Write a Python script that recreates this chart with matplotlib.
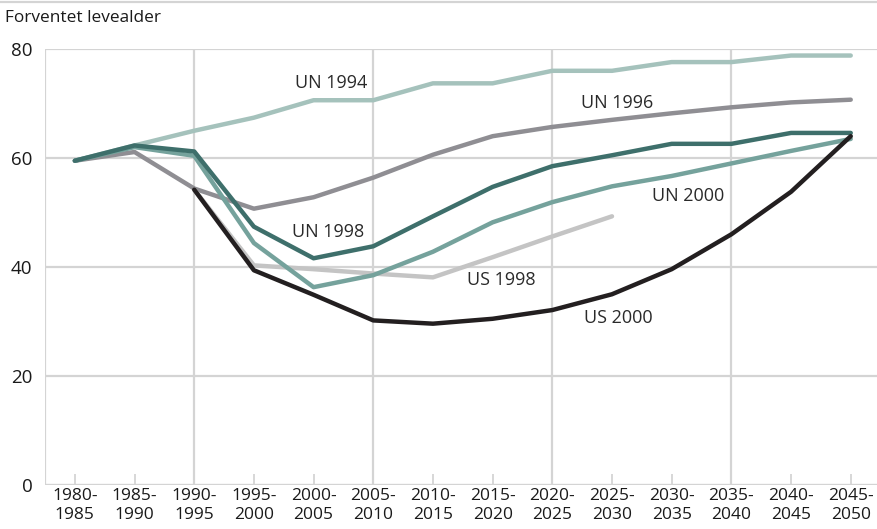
import numpy as np
import matplotlib.pyplot as plt
from matplotlib.lines import Line2D

plt.rcParams['font.family'] = ['Open Sans', 'DejaVu Sans']

periods = ['1980-\n1985', '1985-\n1990', '1990-\n1995', '1995-\n2000', '2000-\n2005',
           '2005-\n2010', '2010-\n2015', '2015-\n2020', '2020-\n2025', '2025-\n2030',
           '2030-\n2035', '2035-\n2040', '2040-\n2045', '2045-\n2050']

# series values (nan = no value for that period)
nan = np.nan
un_1994 = [59.5, 62.3, 65.0, 67.4, 70.6, 70.6, 73.7, 73.7, 76.0, 76.0, 77.6, 77.6, 78.8, 78.8]
un_1996 = [59.5, 61.1, 54.4, 50.7, 52.8, 56.4, 60.6, 64.0, 65.7, 67.0, 68.2, 69.3, 70.2, 70.7]
un_1998 = [59.5, 62.3, 61.2, 47.4, 41.6, 43.8, 49.3, 54.7, 58.5, 60.5, 62.6, 62.6, 64.6, 64.6]
un_2000 = [59.5, 62.0, 60.4, 44.4, 36.3, 38.5, 42.8, 48.2, 51.9, 54.8, 56.7, 59.0, 61.3, 63.5]
us_1998 = [nan, nan, 54.2, 40.3, 39.6, 38.8, 38.1, 41.8, 45.6, 49.3, nan, nan, nan, nan]
us_2000 = [nan, nan, 54.2, 39.4, 34.9, 30.2, 29.6, 30.5, 32.1, 35.0, 39.6, 46.0, 53.8, 64.0]

series = [
    ('UN 1994', un_1994, '#a5c2bc', 4.3, 73.8),
    ('UN 1996', un_1996, '#8f8e93', 9.08, 70.1),
    ('US 1998', us_1998, '#c4c4c4', 7.14, 37.6),
    ('UN 2000', un_2000, '#75a29c', 10.28, 53.0),
    ('UN 1998', un_1998, '#3e6f6b', 4.25, 46.4),
    ('US 2000', us_2000, '#231f20', 9.1, 30.6),
]

fig = plt.figure(figsize=(8.77, 5.29), dpi=100)
ax = fig.add_axes([45 / 877, 1 - 485 / 529, 832 / 877, 436 / 529])

grid_col = '#d4d4d4'
x = np.arange(len(periods))

for yv in [20, 40, 60, 80]:
    ax.axhline(yv, color=grid_col, lw=1.6, zorder=1)
ax.axhline(0, color=grid_col, lw=2.4, zorder=1)
for xv in [2, 5, 8, 11]:
    ax.axvline(xv, color=grid_col, lw=1.6, zorder=1)
ax.axvline(-0.5, color=grid_col, lw=1.6, zorder=1)

for name, vals, col, lx, ly in series:
    ax.plot(x, vals, color=col, lw=3.2, solid_capstyle='round', solid_joinstyle='round', zorder=3)
    ax.text(lx, ly, name, ha='center', va='center', fontsize=13, color='#2a2a2a', zorder=4)

ax.set_xlim(-0.5, 13.44)
ax.set_ylim(0, 80)
ax.set_xticks(x)
ax.set_xticklabels(periods, fontsize=12.5, color='#1a1a1a', linespacing=1.3)
ax.set_yticks([0, 20, 40, 60, 80])
ax.set_yticklabels(['0', '20', '40', '60', '80'], fontsize=13.5, color='#1a1a1a')
ax.tick_params(axis='x', direction='in', length=8, width=1.3, color=grid_col, pad=2)
ax.tick_params(axis='y', length=0, pad=9)
for s in ax.spines.values():
    s.set_visible(False)

fig.text(5 / 877, 1 - 18 / 529, 'Forventet levealder', fontsize=12.4, color='#1a1a1a',
         ha='left', va='center')
fig.add_artist(Line2D([0, 1], [1 - 1.5 / 529, 1 - 1.5 / 529], color=grid_col, lw=1.6,
                      transform=fig.transFigure))

fig.savefig('out.png', dpi=100)
